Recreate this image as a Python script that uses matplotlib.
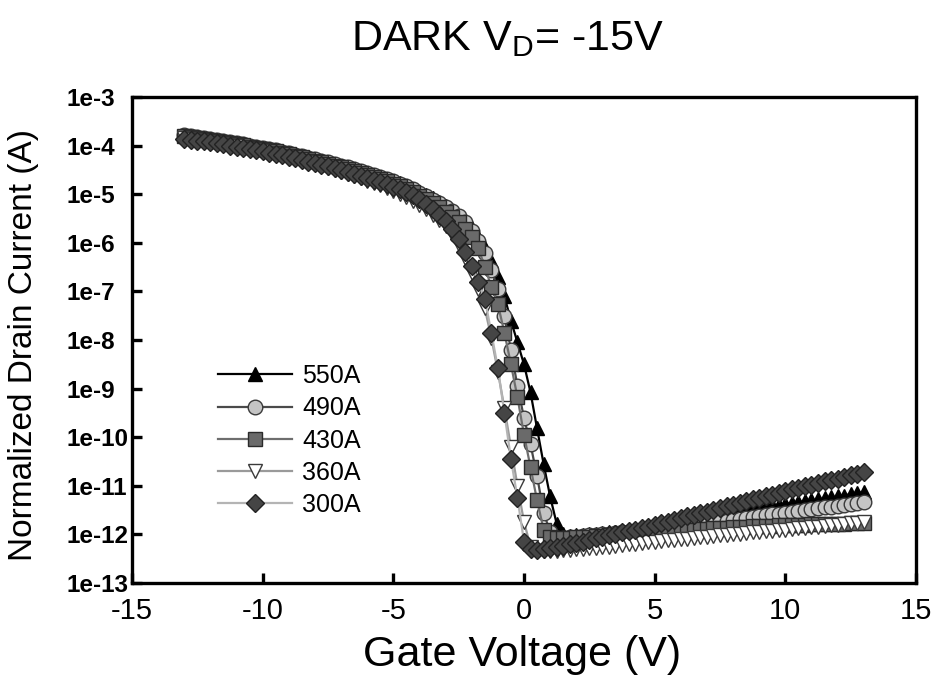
import matplotlib
matplotlib.use("Agg")
import matplotlib.pyplot as plt
import numpy as np
from matplotlib.ticker import FuncFormatter

plt.rcParams["font.family"] = ["Liberation Sans", "DejaVu Sans"]
plt.rcParams["axes.unicode_minus"] = False

# gate sweep, 0.25 V per step
gate_v = [
    -13.00, -12.75, -12.50, -12.25,
    -12.00, -11.75, -11.50, -11.25,
    -11.00, -10.75, -10.50, -10.25,
    -10.00, -9.75, -9.50, -9.25,
    -9.00, -8.75, -8.50, -8.25,
    -8.00, -7.75, -7.50, -7.25,
    -7.00, -6.75, -6.50, -6.25,
    -6.00, -5.75, -5.50, -5.25,
    -5.00, -4.75, -4.50, -4.25,
    -4.00, -3.75, -3.50, -3.25,
    -3.00, -2.75, -2.50, -2.25,
    -2.00, -1.75, -1.50, -1.25,
    -1.00, -0.75, -0.50, -0.25,
    0.00, 0.25, 0.50, 0.75,
    1.00, 1.25, 1.50, 1.75,
    2.00, 2.25, 2.50, 2.75,
    3.00, 3.25, 3.50, 3.75,
    4.00, 4.25, 4.50, 4.75,
    5.00, 5.25, 5.50, 5.75,
    6.00, 6.25, 6.50, 6.75,
    7.00, 7.25, 7.50, 7.75,
    8.00, 8.25, 8.50, 8.75,
    9.00, 9.25, 9.50, 9.75,
    10.00, 10.25, 10.50, 10.75,
    11.00, 11.25, 11.50, 11.75,
    12.00, 12.25, 12.50, 12.75,
    13.00,
]

# log10 of normalized drain current (A), one list per thickness
log_id_550 = [
    -3.79, -3.81, -3.83, -3.85,
    -3.87, -3.89, -3.91, -3.94,
    -3.96, -3.98, -4.01, -4.03,
    -4.06, -4.09, -4.11, -4.14,
    -4.17, -4.20, -4.23, -4.26,
    -4.29, -4.32, -4.35, -4.38,
    -4.42, -4.45, -4.49, -4.52,
    -4.56, -4.60, -4.64, -4.68,
    -4.72, -4.77, -4.83, -4.89,
    -4.95, -5.01, -5.08, -5.16,
    -5.25, -5.34, -5.44, -5.55,
    -5.70, -5.88, -6.10, -6.38,
    -6.70, -7.10, -7.60, -8.05,
    -8.50, -9.08, -9.82, -10.55,
    -11.22, -11.78, -12.00, -12.03,
    -12.02, -12.01, -12.00, -11.99,
    -11.98, -11.96, -11.95, -11.93,
    -11.92, -11.90, -11.88, -11.87,
    -11.85, -11.83, -11.80, -11.78,
    -11.75, -11.72, -11.69, -11.66,
    -11.63, -11.60, -11.57, -11.55,
    -11.52, -11.50, -11.48, -11.46,
    -11.44, -11.42, -11.40, -11.39,
    -11.37, -11.35, -11.33, -11.32,
    -11.30, -11.28, -11.26, -11.24,
    -11.22, -11.20, -11.17, -11.15,
    -11.13,
]

log_id_490 = [
    -3.78, -3.80, -3.82, -3.84,
    -3.86, -3.88, -3.90, -3.93,
    -3.95, -3.97, -4.00, -4.02,
    -4.05, -4.08, -4.10, -4.13,
    -4.16, -4.19, -4.22, -4.25,
    -4.28, -4.31, -4.34, -4.37,
    -4.41, -4.44, -4.48, -4.52,
    -4.56, -4.60, -4.64, -4.68,
    -4.73, -4.78, -4.84, -4.90,
    -4.97, -5.03, -5.11, -5.19,
    -5.27, -5.35, -5.45, -5.58,
    -5.75, -5.97, -6.22, -6.55,
    -6.95, -7.50, -8.20, -8.95,
    -9.60, -10.15, -10.80, -11.55,
    -11.95, -12.08, -12.07, -12.06,
    -12.05, -12.04, -12.02, -12.01,
    -12.00, -11.99, -11.98, -11.96,
    -11.95, -11.94, -11.93, -11.91,
    -11.90, -11.88, -11.87, -11.85,
    -11.84, -11.82, -11.80, -11.79,
    -11.77, -11.75, -11.73, -11.72,
    -11.70, -11.68, -11.66, -11.65,
    -11.63, -11.61, -11.59, -11.58,
    -11.56, -11.54, -11.52, -11.50,
    -11.48, -11.46, -11.44, -11.43,
    -11.41, -11.39, -11.37, -11.35,
    -11.33,
]

log_id_430 = [
    -3.80, -3.82, -3.84, -3.86,
    -3.88, -3.90, -3.92, -3.95,
    -3.97, -3.99, -4.02, -4.04,
    -4.07, -4.10, -4.12, -4.15,
    -4.18, -4.21, -4.24, -4.27,
    -4.31, -4.34, -4.37, -4.41,
    -4.45, -4.48, -4.52, -4.56,
    -4.60, -4.64, -4.69, -4.73,
    -4.78, -4.84, -4.90, -4.96,
    -5.03, -5.10, -5.18, -5.27,
    -5.36, -5.46, -5.57, -5.71,
    -5.88, -6.10, -6.50, -6.90,
    -7.26, -7.85, -8.50, -9.18,
    -9.95, -10.62, -11.30, -11.90,
    -12.05, -12.08, -12.07, -12.07,
    -12.06, -12.05, -12.05, -12.04,
    -12.03, -12.02, -12.01, -12.00,
    -11.99, -11.98, -11.98, -11.97,
    -11.96, -11.95, -11.94, -11.93,
    -11.92, -11.91, -11.90, -11.89,
    -11.88, -11.87, -11.86, -11.86,
    -11.85, -11.84, -11.84, -11.83,
    -11.83, -11.82, -11.82, -11.81,
    -11.81, -11.80, -11.80, -11.80,
    -11.79, -11.79, -11.78, -11.78,
    -11.78, -11.78, -11.77, -11.77,
    -11.77,
]

log_id_360 = [
    -3.84, -3.86, -3.88, -3.90,
    -3.92, -3.94, -3.96, -3.99,
    -4.01, -4.04, -4.07, -4.09,
    -4.12, -4.15, -4.18, -4.21,
    -4.24, -4.27, -4.31, -4.34,
    -4.38, -4.42, -4.46, -4.50,
    -4.54, -4.58, -4.63, -4.67,
    -4.72, -4.77, -4.82, -4.87,
    -4.93, -4.99, -5.06, -5.14,
    -5.22, -5.31, -5.42, -5.53,
    -5.66, -5.82, -6.05, -6.32,
    -6.62, -6.95, -7.35, -7.95,
    -8.65, -9.40, -10.20, -11.00,
    -11.74, -12.25, -12.35, -12.35,
    -12.34, -12.34, -12.33, -12.32,
    -12.31, -12.30, -12.29, -12.28,
    -12.26, -12.25, -12.23, -12.22,
    -12.20, -12.19, -12.18, -12.16,
    -12.15, -12.14, -12.12, -12.11,
    -12.10, -12.09, -12.07, -12.06,
    -12.05, -12.04, -12.02, -12.01,
    -12.00, -11.99, -11.97, -11.96,
    -11.95, -11.94, -11.92, -11.91,
    -11.90, -11.89, -11.87, -11.86,
    -11.85, -11.84, -11.82, -11.81,
    -11.80, -11.79, -11.77, -11.76,
    -11.74,
]

log_id_300 = [
    -3.86, -3.88, -3.90, -3.91,
    -3.93, -3.95, -3.97, -4.00,
    -4.02, -4.04, -4.07, -4.10,
    -4.12, -4.15, -4.18, -4.20,
    -4.23, -4.26, -4.30, -4.33,
    -4.36, -4.39, -4.43, -4.46,
    -4.50, -4.54, -4.58, -4.62,
    -4.66, -4.70, -4.75, -4.80,
    -4.85, -4.90, -4.96, -5.02,
    -5.10, -5.20, -5.31, -5.42,
    -5.55, -5.72, -5.92, -6.18,
    -6.48, -6.80, -7.15, -7.85,
    -8.58, -9.50, -10.45, -11.25,
    -12.15, -12.30, -12.32, -12.30,
    -12.28, -12.25, -12.23, -12.20,
    -12.18, -12.15, -12.12, -12.08,
    -12.05, -12.02, -11.99, -11.96,
    -11.93, -11.90, -11.87, -11.84,
    -11.81, -11.77, -11.74, -11.70,
    -11.67, -11.63, -11.60, -11.56,
    -11.53, -11.49, -11.46, -11.42,
    -11.39, -11.35, -11.32, -11.28,
    -11.25, -11.21, -11.18, -11.14,
    -11.10, -11.07, -11.04, -11.01,
    -10.98, -10.95, -10.91, -10.88,
    -10.85, -10.82, -10.78, -10.75,
    -10.72,
]

labels = ["550A", "490A", "430A", "360A", "300A"]

# (line colour, marker, face, edge, marker size)
styles = [
    ("#000000", "^", "#000000", "#000000", 10),
    ("#4a4a4a", "o", "#c4c4c4", "#3a3a3a", 10.5),
    ("#6e6e6e", "s", "#6a6a6a", "#2a2a2a", 9.5),
    ("#9a9a9a", "v", "#ffffff", "#3a3a3a", 10.5),
    ("#b4b4b4", "D", "#454545", "#222222", 9),
]

series = [log_id_550, log_id_490, log_id_430, log_id_360, log_id_300]

fig = plt.figure(figsize=(9.39, 6.79), dpi=100)
ax = fig.add_axes([132 / 939, 1 - 583 / 679, 784 / 939, 486 / 679])

x = np.array(gate_v)
for logs, lab, (lc, mk, fc, ec, ms) in zip(series, labels, styles):
    ax.plot(x, 10.0 ** np.array(logs), color=lc, lw=1.6, marker=mk,
            markersize=ms, markerfacecolor=fc, markeredgecolor=ec,
            markeredgewidth=1.0, label=lab)

ax.set_yscale("log")
ax.set_xlim(-15, 15)
ax.set_ylim(1e-13, 1e-3)
ax.set_xticks([-15, -10, -5, 0, 5, 10, 15])
ax.set_yticks([10.0 ** k for k in range(-13, -2)])
ax.yaxis.set_minor_locator(matplotlib.ticker.NullLocator())
ax.yaxis.set_major_formatter(
    FuncFormatter(lambda v, _: "1e%d" % int(round(np.log10(v)))))

for side in ax.spines.values():
    side.set_linewidth(2.4)
ax.tick_params(axis="both", direction="in", length=7, width=2.4)
ax.tick_params(axis="x", labelsize=21, pad=10)
ax.tick_params(axis="y", labelsize=17.5, pad=47)
for t in ax.get_yticklabels():
    t.set_horizontalalignment("left")
    t.set_fontweight("bold")

fig.text(508 / 939, 1 - 50 / 679, r"DARK V$_{\mathregular{D}}$= -15V",
         fontsize=31, ha="center", va="baseline")
fig.text(522 / 939, 1 - 666 / 679, "Gate Voltage (V)",
         fontsize=31, ha="center", va="baseline")
fig.text(24 / 939, 1 - 345 / 679, "Normalized Drain Current (A)",
         fontsize=24, rotation=90, ha="center", va="center")

ax.legend(loc="upper left", bbox_to_anchor=(218 / 939, 1 - 364 / 679),
          bbox_transform=fig.transFigure, frameon=False, fontsize=18,
          numpoints=1, handlelength=2.95, handletextpad=0.42,
          labelspacing=0.33, borderpad=0, borderaxespad=0)

fig.savefig("out.png", dpi=100)
